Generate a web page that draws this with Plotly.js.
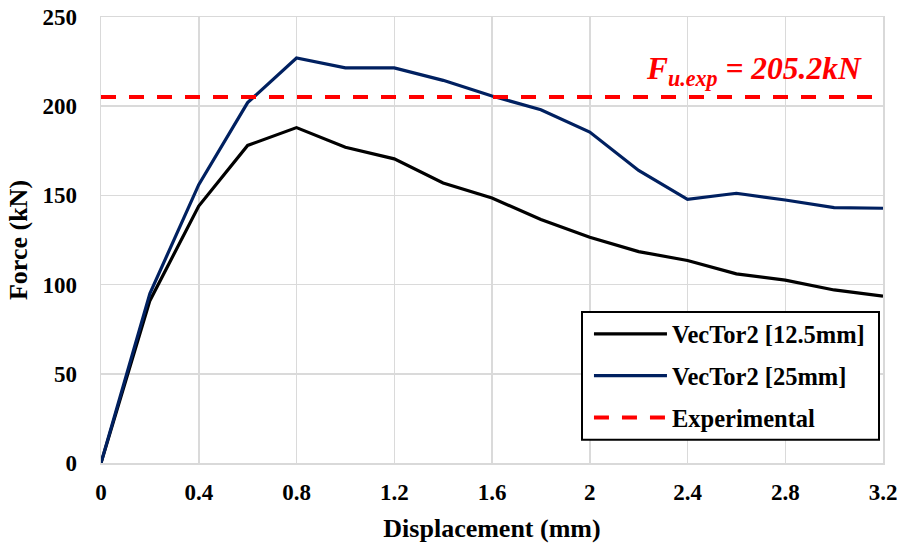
<!DOCTYPE html>
<html>
<head>
<meta charset="utf-8">
<script src="https://cdn.plot.ly/plotly-3.0.1.min.js"></script>
<style>html,body{margin:0;padding:0;background:#fff;}#chart{width:901px;height:547px;}</style>
</head>
<body>
<div id="chart"></div>
<script>
const displacement = [0, 0.2, 0.4, 0.6, 0.8, 1.0, 1.2, 1.4, 1.6, 1.8, 2.0, 2.2, 2.4, 2.6, 2.8, 3.0, 3.2];
const force12_5 = [0, 91, 144, 178, 188, 177, 170.5, 157, 148.5, 136.5, 126.5, 118.5, 113.5, 106, 102.5, 97, 93.5];
const force25 = [0, 95, 156, 202, 227, 221.5, 221.5, 214.5, 205.7, 198, 185.5, 164, 147.8, 151.2, 147.4, 143.2, 142.8];
const expX = [0, 3.2];
const expForce = [205.2, 205.2];
const seriesNames = ["VecTor2 [12.5mm]", "VecTor2 [25mm]", "Experimental"];
const annotationText = "F<sub>u.exp</sub> = 205.2kN";

const serif = "Liberation Serif, Times New Roman, serif";

const traces = [
  {x: displacement, y: force12_5, mode: "lines", name: seriesNames[0], legendgroup: "a",
   line: {color: "#000000", width: 3.2}},
  {x: displacement, y: force25, mode: "lines", name: seriesNames[1], legendgroup: "b",
   line: {color: "#002060", width: 3.2}},
  {x: expX, y: expForce, mode: "lines", name: seriesNames[2], legendgroup: "c",
   line: {color: "#ff0000", width: 4, dash: "15px,13px"}}
];

const axisCommon = {
  showgrid: true, gridcolor: "#dadada", gridwidth: 1.5,
  showline: true, linecolor: "#d9d9d9", linewidth: 1.5, mirror: true,
  zeroline: false, ticks: "",
  tickfont: {family: serif, size: 23, color: "#000", weight: "bold"}
};

// legend frame (paper coordinates)
const legX0 = (582 - 101) / 782, legX1 = (879 - 101) / 782;
const legY0 = (463.3 - 440) / 446.3, legY1 = (463.3 - 312.3) / 446.3;

const layout = {
  width: 901, height: 547,
  margin: {l: 101, r: 18, t: 17, b: 84},
  paper_bgcolor: "#fff", plot_bgcolor: "#fff",
  showlegend: true,
  hovermode: false,
  xaxis: Object.assign({}, axisCommon, {
    range: [0, 3.2], dtick: 0.4, tick0: 0, ticklabelstandoff: 8,
    title: {text: "Displacement (mm)", font: {family: serif, size: 26, color: "#000", weight: "bold"}, standoff: 14}
  }),
  yaxis: Object.assign({}, axisCommon, {
    range: [0, 250], dtick: 50, tick0: 0, ticklabelstandoff: 18,
    title: {text: "Force (kN)", font: {family: serif, size: 26, color: "#000", weight: "bold"}, standoff: 7}
  }),
  shapes: [{
    type: "rect", xref: "paper", yref: "paper", layer: "above",
    x0: legX0, x1: legX1, y0: legY0, y1: legY1,
    fillcolor: "#ffffff", line: {color: "#000000", width: 2}
  }],
  legend: {
    x: 0.624, y: 0.340, xanchor: "left", yanchor: "top",
    bgcolor: "rgba(0,0,0,0)", borderwidth: 0,
    font: {family: serif, size: 24.5, color: "#000", weight: "bold"},
    tracegroupgap: 7, itemwidth: 73, traceorder: "grouped"
  },
  annotations: [{
    xref: "paper", yref: "paper", x: 0.976, y: 0.878, xanchor: "right", yanchor: "middle",
    text: annotationText, showarrow: false,
    font: {family: serif, size: 31.5, color: "#ff0000", weight: "bold", style: "italic"}
  }]
};

Plotly.newPlot("chart", traces, layout, {displayModeBar: false, staticPlot: true});
</script>
</body>
</html>
